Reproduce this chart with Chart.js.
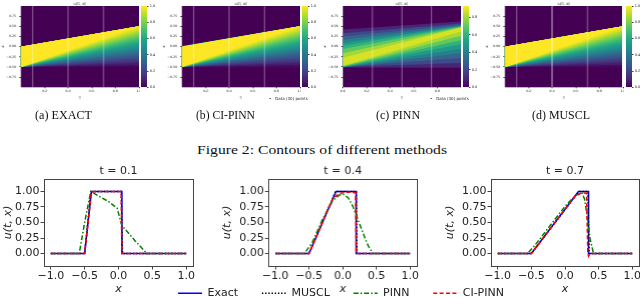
<!DOCTYPE html>
<html><head><meta charset="utf-8">
<script src="https://cdn.jsdelivr.net/npm/chart.js@4.4.0/dist/chart.umd.min.js"></script>
<style>
html,body{margin:0;padding:0;width:640px;height:298px;overflow:hidden;background:#fff;}
canvas{position:absolute;}
.cap{position:absolute;font-family:"Liberation Serif","Times New Roman",serif;color:#111;white-space:nowrap;transform-origin:0 50%;}
.tiny{position:absolute;font-family:"DejaVu Sans",sans-serif;font-size:4px;color:#222;white-space:nowrap;}
</style></head><body>
<canvas id="h0"></canvas><canvas id="h1"></canvas><canvas id="h2"></canvas><canvas id="h3"></canvas>
<canvas id="c0"></canvas><canvas id="c1"></canvas><canvas id="c2"></canvas><canvas id="c3"></canvas>
<canvas id="p0"></canvas><canvas id="p1"></canvas><canvas id="p2"></canvas>
<canvas id="leg"></canvas>
<div class="tiny" style="left:269px;top:96px">•&nbsp;&nbsp;&nbsp;Data (30) points</div>
<div class="tiny" style="left:430px;top:96px">•&nbsp;&nbsp;&nbsp;Data (30) points</div>
<div class="cap" id="capA" data-l="35" data-w="57" style="top:108px;font-size:12px">(a) EXACT</div>
<div class="cap" id="capB" data-l="196" data-w="59" style="top:108px;font-size:12px">(b) CI-PINN</div>
<div class="cap" id="capC" data-l="376" data-w="44" style="top:108px;font-size:12px">(c) PINN</div>
<div class="cap" id="capD" data-l="532" data-w="58" style="top:108px;font-size:12px">(d) MUSCL</div>
<div class="cap" id="capF" data-l="197" data-w="250" style="top:142px;font-size:13px">Figure 2: Contours of different methods</div>
<script>
// ================= DATA =================
// line profiles u(t,x) at t = 0.1, 0.4, 0.7
const plotTitles = ['t = 0.1', 't = 0.4', 't = 0.7'];
const seriesNames = ['Exact', 'MUSCL', 'PINN', 'CI-PINN'];
const xTickValues = [-1.0, -0.5, 0.0, 0.5, 1.0];
const yTickValues = [0.0, 0.25, 0.5, 0.75, 1.0];

const exactX_01 = [-1, -0.5, -0.4, 0.05, 0.05, 1];
const exactY_01 = [0, 0, 1, 1, 0, 0];
const exactX_04 = [-1, -0.5, -0.1, 0.2, 0.2, 1];
const exactY_04 = [0, 0, 1, 1, 0, 0];
const exactX_07 = [-1, -0.5, 0.2, 0.35, 0.35, 1];
const exactY_07 = [0, 0, 1, 1, 0, 0];

const musclX_01 = [-1, -0.5, -0.41, -0.39, 0.04, 0.06, 1];
const musclY_01 = [0, 0, 0.98, 1, 1, 0, 0];
const musclX_04 = [-1, -0.5, -0.11, -0.08, 0.2, 0.21, 1];
const musclY_04 = [0, 0, 0.99, 1, 1, 0, 0];
const musclX_07 = [-1, -0.5, 0.2, 0.22, 0.34, 0.36, 1];
const musclY_07 = [0, 0, 0.99, 1, 1, 0, 0];

const pinnX_01 = [-1, -0.58, -0.5, -0.41, -0.3, -0.15, -0.02, 0.05, 0.25, 0.42, 1];
const pinnY_01 = [0, 0, 0.5, 1.0, 0.93, 0.84, 0.73, 0.45, 0.2, 0, 0];
const pinnX_04 = [-1, -0.57, -0.45, -0.3, -0.15, -0.05, 0.0, 0.08, 0.15, 0.2, 0.3, 0.38, 0.45, 1];
const pinnY_04 = [0, 0, 0.18, 0.55, 0.85, 0.94, 0.96, 0.9, 0.76, 0.62, 0.33, 0.12, 0, 0];
const pinnX_07 = [-1, -0.56, -0.45, -0.2, 0.0, 0.15, 0.25, 0.29, 0.33, 0.37, 0.42, 0.45, 1];
const pinnY_07 = [0, 0, 0.13, 0.48, 0.76, 0.93, 0.98, 0.88, 0.6, 0.25, 0.02, 0, 0];

const ciX_01 = [-1, -0.5, -0.4, -0.36, 0.04, 0.05, 1];
const ciY_01 = [0, 0, 0.98, 1, 1, 0, 0];
const ciX_04 = [-1, -0.5, -0.3, -0.15, -0.05, 0.1, 0.19, 0.2, 1];
const ciY_04 = [0, 0, 0.5, 0.88, 0.97, 0.99, 0.98, 0, 0];
const ciX_07 = [-1, -0.5, 0.0, 0.15, 0.25, 0.32, 0.34, 0.35, 0.37, 1];
const ciY_07 = [0, 0, 0.71, 0.92, 0.98, 0.97, 0.0, -0.04, 0, 0];

// contour bands: region where u >= level, bounded by lower/upper x at t=0 and t=1
const exactLevels = [0,0.05,0.1,0.15,0.2,0.25,0.3,0.35,0.4,0.45,0.5,0.55,0.6,0.65,0.7,0.75,0.8,0.85,0.9,0.95,1.0];
const exactLo0 = [-0.5,-0.5,-0.5,-0.5,-0.5,-0.5,-0.5,-0.5,-0.5,-0.5,-0.5,-0.5,-0.5,-0.5,-0.5,-0.5,-0.5,-0.5,-0.5,-0.5,-0.5];
const exactLo1 = [-0.5,-0.45,-0.4,-0.35,-0.3,-0.25,-0.2,-0.15,-0.1,-0.05,0,0.05,0.1,0.15,0.2,0.25,0.3,0.35,0.4,0.45,0.5];
const exactHi0 = [0,0,0,0,0,0,0,0,0,0,0,0,0,0,0,0,0,0,0,0,0];
const exactHi1 = [0.5,0.5,0.5,0.5,0.5,0.5,0.5,0.5,0.5,0.5,0.5,0.5,0.5,0.5,0.5,0.5,0.5,0.5,0.5,0.5,0.5];

const ciLevels = [0,0.05,0.1,0.15,0.2,0.25,0.3,0.35,0.4,0.45,0.5,0.55,0.6,0.65,0.7,0.75,0.8,0.85,0.9,0.95,1.0];
const ciLo0 = [-0.51,-0.5,-0.5,-0.5,-0.5,-0.5,-0.5,-0.5,-0.5,-0.5,-0.5,-0.5,-0.5,-0.5,-0.5,-0.5,-0.5,-0.5,-0.5,-0.5,-0.49];
const ciLo1 = [-0.52,-0.46,-0.4,-0.35,-0.3,-0.25,-0.2,-0.15,-0.1,-0.05,0,0.05,0.1,0.15,0.2,0.25,0.3,0.35,0.4,0.45,0.5];
const ciHi0 = [0.01,0.01,0.01,0.01,0.01,0.01,0.01,0.01,0.01,0.01,0,0,0,0,0,0,0,0,0,0,0];
const ciHi1 = [0.51,0.51,0.51,0.51,0.51,0.5,0.5,0.5,0.5,0.5,0.5,0.5,0.5,0.5,0.5,0.5,0.5,0.5,0.5,0.5,0.5];

const pinnLevels = [0.05,0.15,0.25,0.35,0.45,0.55,0.65,0.75,0.85];
const pinnLo0 = [-0.51,-0.5,-0.5,-0.5,-0.5,-0.5,-0.49,-0.48,-0.47];
const pinnLo1 = [-0.52,-0.4,-0.28,-0.16,-0.05,0.06,0.16,0.27,0.37];
const pinnHi0 = [0.42,0.33,0.25,0.17,0.09,0.02,-0.06,-0.16,-0.27];
const pinnHi1 = [0.62,0.57,0.54,0.52,0.51,0.5,0.49,0.48,0.47];

const musclLevels = [0,0.05,0.1,0.15,0.2,0.25,0.3,0.35,0.4,0.45,0.5,0.55,0.6,0.65,0.7,0.75,0.8,0.85,0.9,0.95,1.0];
const musclLo0 = [-0.5,-0.5,-0.5,-0.5,-0.5,-0.5,-0.5,-0.5,-0.5,-0.5,-0.5,-0.5,-0.5,-0.5,-0.5,-0.5,-0.5,-0.5,-0.5,-0.5,-0.5];
const musclLo1 = [-0.51,-0.45,-0.4,-0.35,-0.3,-0.25,-0.2,-0.15,-0.1,-0.05,0,0.05,0.1,0.15,0.2,0.25,0.3,0.35,0.4,0.45,0.5];
const musclHi0 = [0,0,0,0,0,0,0,0,0,0,0,0,0,0,0,0,0,0,0,0,0];
const musclHi1 = [0.5,0.5,0.5,0.5,0.5,0.5,0.5,0.5,0.5,0.5,0.5,0.5,0.5,0.5,0.5,0.5,0.5,0.5,0.5,0.5,0.5];

const colorbarMax = [1.0, 1.0, 0.93, 1.0];
const sliceLinesT = [[0.1,0.4,0.7],[0.1,0.4,0.7],[0.25,0.5,0.75],[0.1,0.4,0.7,1.0]];
const heatXTicks = [[0.2,0.4,0.6,0.8,1.0],[0.2,0.4,0.6,0.8,1.0],[0.0,0.2,0.4,0.6,0.8],[0.2,0.4,0.6,0.8,1.0]];
const heatYTicks = [-0.75,-0.5,-0.25,0.0,0.25,0.5,0.75];
const cbarTicks = [[0,0.2,0.4,0.6,0.8,1.0],[0,0.2,0.4,0.6,0.8,1.0],[0,0.2,0.4,0.6,0.8],[0,0.2,0.4,0.6,0.8,1.0]];

// ================= STYLE / HELPERS =================
Chart.defaults.font.family = 'DejaVu Sans';
Chart.defaults.color = '#222';
const VIR = ['#440154','#482475','#414487','#355f8d','#2a788e','#21918c','#22a884','#44bf70','#7ad151','#bddf26','#fde725'];
function hex2rgb(h){return [1,3,5].map(i=>parseInt(h.substr(i,2),16));}
function viridis(v){
  v = Math.max(0, Math.min(1, v));
  const p = v*10, i = Math.min(9, Math.floor(p)), f = p - i;
  const a = hex2rgb(VIR[i]), b = hex2rgb(VIR[i+1]);
  return 'rgb(' + a.map((c,k)=>Math.round(c+(b[k]-c)*f)).join(',') + ')';
}
function fmt(v, d){ const s = Math.abs(v).toFixed(d); return (v < -1e-9 ? '\u2212' : '') + s; }
function place(id, x, y, w, h){
  const c = document.getElementById(id);
  c.width = w; c.height = h; c.style.left = x + 'px'; c.style.top = y + 'px';
  c.style.width = w + 'px'; c.style.height = h + 'px';
  return c;
}
const frame = {
  id: 'frame',
  afterDatasetsDraw(chart, args, opts){
    if (!opts.on) return;
    const {ctx, chartArea: a} = chart;
    ctx.save(); ctx.strokeStyle = '#444'; ctx.lineWidth = 1;
    ctx.strokeRect(Math.round(a.left)+0.5, Math.round(a.top)+0.5, Math.round(a.right-a.left), Math.round(a.bottom-a.top));
    ctx.restore();
  }
};
const areaBg = {
  id: 'areaBg',
  beforeDraw(chart, args, opts){
    if (!opts.color) return;
    const {ctx, chartArea: a} = chart;
    ctx.save(); ctx.fillStyle = opts.color; ctx.fillRect(a.left, a.top, a.right-a.left, a.bottom-a.top); ctx.restore();
  }
};
Chart.register(frame, areaBg);

// ================= HEATMAPS =================
const heatPanels = [
  {id:'h0', cid:'c0', L:20.7, levels:exactLevels, lo0:exactLo0, lo1:exactLo1, hi0:exactHi0, hi1:exactHi1},
  {id:'h1', cid:'c1', L:181.7, levels:ciLevels, lo0:ciLo0, lo1:ciLo1, hi0:ciHi0, hi1:ciHi1},
  {id:'h2', cid:'c2', L:342.7, levels:pinnLevels, lo0:pinnLo0, lo1:pinnLo1, hi0:pinnHi0, hi1:pinnHi1},
  {id:'h3', cid:'c3', L:505, levels:musclLevels, lo0:musclLo0, lo1:musclLo1, hi0:musclHi0, hi1:musclHi1}
];
const HW = 118, HT = 6, HB = 87.3, HCH = 102, YAW = 20.7;
heatPanels.forEach((p, k) => {
  const cx = p.L - YAW, cw = YAW + HW + 1;
  place(p.id, cx, 0, cw, HCH);
  const vmax = colorbarMax[k];
  const ds = [];
  const n = p.levels.length;
  p.levels.forEach((lv, i) => {
    const next = i < n - 1 ? p.levels[i+1] : lv + 0.05;
    const val = Math.min(vmax, (lv + next) / 2);
    ds.push({
      data: [{x:0, y:p.lo0[i]}, {x:1, y:p.lo1[i]}, {x:1, y:p.hi1[i]}, {x:0, y:p.hi0[i]}],
      fill: 'shape', backgroundColor: viridis(val / vmax), borderColor: 'rgba(0,0,0,0)', borderWidth: 0,
      pointRadius: 0, tension: 0, order: n - i
    });
  });
  sliceLinesT[k].forEach(t => {
    ds.push({ data: [{x:t, y:-1}, {x:t, y:1}], fill: false, order: -1,
      borderColor: t >= 0.99 ? 'rgba(255,255,255,0.95)' : (k===3 && t===0.4 ? 'rgba(255,255,255,0.7)' : 'rgba(255,255,255,0.4)'),
      borderWidth: t >= 0.99 ? 2 : 1, pointRadius: 0 });
  });
  const tf = {family:'DejaVu Sans', size:3.2};
  const lf = {family:'DejaVu Sans', size:4};
  new Chart(document.getElementById(p.id), {
    type: 'line',
    data: {datasets: ds},
    options: {
      responsive: false, animation: false, devicePixelRatio: 1,
      layout: {padding: {left:0, top:0, right:1, bottom:0}},
      plugins: {legend:{display:false}, tooltip:{enabled:false}, areaBg:{color: viridis(0)}, frame:{on:false}},
      scales: {
        x: {type:'linear', min:0, max:1, position:'bottom',
          afterBuildTicks: s => { s.ticks = heatXTicks[k].map(v => ({value:v})); },
          ticks: {font: tf, padding: 0.8, maxRotation: 0, autoSkip: false, callback: v => fmt(v,1)},
          grid: {drawOnChartArea:false, tickLength:1, tickColor:'#444'}, border:{display:false},
          title: {display:true, text:'t', font: lf, padding:{top:0,bottom:1.3}},
          afterFit: s => { s.height = HCH - HB; s.paddingLeft = 0; s.paddingRight = 0; }
        },
        y: {type:'linear', min:-1, max:1, position:'left',
          afterBuildTicks: s => { s.ticks = heatYTicks.map(v => ({value:v})); },
          ticks: {font: tf, padding: 3.2, autoSkip: false, callback: v => fmt(v,2)},
          grid: {drawOnChartArea:false, tickLength:1.5, tickColor:'#444'}, border:{display:false},
          title: {display:true, text:'x', font: lf, padding:{top:0.8,bottom:0}},
          afterFit: s => { s.width = YAW; s.paddingTop = 0; s.paddingBottom = 0; }
        },
        xt: {type:'linear', position:'top', min:0, max:1,
          ticks:{display:false}, grid:{display:false}, border:{display:false},
          title: {display:true, text:'u(t, x)', font: lf, padding:{top:1.6,bottom:0}},
          afterFit: s => { s.height = HT; s.paddingLeft = 0; s.paddingRight = 0; }
        }
      }
    }
  });
  // colorbar
  const cbL = p.L + HW + 2.5, cbW = 6, cbAxisW = 14;
  place(p.cid, cbL, 0, cbW + cbAxisW, HCH);
  new Chart(document.getElementById(p.cid), {
    type: 'bar',
    data: {labels: ['u'], datasets: [{data: [[0, vmax]], borderWidth: 0, barPercentage: 1, categoryPercentage: 1,
      backgroundColor: (c) => {
        const a = c.chart.chartArea; if (!a) return viridis(0.5);
        const g = c.chart.ctx.createLinearGradient(0, a.bottom, 0, a.top);
        for (let i = 0; i <= 10; i++) g.addColorStop(i/10, viridis(i/10));
        return g;
      }}]},
    options: {
      responsive: false, animation: false, devicePixelRatio: 1,
      layout: {padding: {left:0, top:HT, right:0, bottom: HCH - HB}},
      plugins: {legend:{display:false}, tooltip:{enabled:false}, frame:{on:false}},
      scales: {
        x: {display:false},
        y: {position:'right', min:0, max:vmax,
          afterBuildTicks: s => { s.ticks = cbarTicks[k].map(v => ({value:v})); },
          ticks: {font: {family:'DejaVu Sans', size:3.5}, padding: 1.2, autoSkip:false, callback: v => fmt(v,1)},
          grid: {drawOnChartArea:false, tickLength:1.5, tickColor:'#444'}, border:{display:false},
          afterFit: s => { s.width = cbAxisW; s.paddingTop = 0; s.paddingBottom = 0; }
        }
      }
    }
  });
});

// ================= LINE PLOTS =================
const profileData = [
  [[exactX_01, exactY_01], [musclX_01, musclY_01], [pinnX_01, pinnY_01], [ciX_01, ciY_01]],
  [[exactX_04, exactY_04], [musclX_04, musclY_04], [pinnX_04, pinnY_04], [ciX_04, ciY_04]],
  [[exactX_07, exactY_07], [musclX_07, musclY_07], [pinnX_07, pinnY_07], [ciX_07, ciY_07]]
];
const seriesStyle = [
  {borderColor:'#0000ff', borderDash:[], borderWidth:1.6},
  {borderColor:'#000000', borderDash:[1.4,1.8], borderWidth:1.4},
  {borderColor:'#008000', borderDash:[5,2,1.5,2], borderWidth:1.5},
  {borderColor:'#ff0000', borderDash:[4,2.4], borderWidth:1.6}
];
const plotGeom = [
  {cx:0, L:44, R:193},
  {cx:219, L:268.3, R:416.7},
  {cx:442, L:491, R:639}
];
const PCY = 160, PCH = 138, PT = 179, PB = 266;
plotGeom.forEach((g, k) => {
  const cw = (k === 2 ? 640 : g.R + 22) - g.cx;
  place('p' + k, g.cx, PCY, cw, PCH);
  const font11 = {family:'DejaVu Sans', size:11};
  const ds = profileData[k].map((pair, i) => Object.assign({
    label: seriesNames[i],
    data: pair[0].map((x, j) => ({x, y: pair[1][j]})),
    fill: false, pointRadius: 0, tension: 0, order: 3 - i
  }, seriesStyle[i]));
  new Chart(document.getElementById('p' + k), {
    type: 'line',
    data: {datasets: ds},
    options: {
      responsive: false, animation: false, devicePixelRatio: 1,
      layout: {padding: {left:0, top:0, right: cw - (g.R - g.cx), bottom:0}},
      plugins: {legend:{display:false}, tooltip:{enabled:false}, frame:{on:true}},
      scales: {
        x: {type:'linear', min:-1.1, max:1.1, position:'bottom',
          afterBuildTicks: s => { s.ticks = xTickValues.map(v => ({value:v})); },
          ticks: {font: font11, padding: 0, maxRotation: 0, autoSkip: false, callback: v => fmt(v,1)},
          grid: {drawOnChartArea:false, tickLength:3.5, tickColor:'#444'}, border:{display:false},
          title: {display:true, text:'x', font:{family:'DejaVu Sans', size:11, style:'italic'}, padding:{top:0,bottom:2.4}},
          afterFit: s => { s.height = PCH - (PB - PCY); s.paddingLeft = 0; s.paddingRight = 0; }
        },
        y: {type:'linear', min:-0.2, max:1.2, position:'left',
          afterBuildTicks: s => { s.ticks = yTickValues.map(v => ({value:v})); },
          ticks: {font: font11, padding: 1, autoSkip: false, callback: v => fmt(v,2)},
          grid: {drawOnChartArea:false, tickLength:3.5, tickColor:'#444'}, border:{display:false},
          title: {display:true, text:'u(t, x)', font:{family:'DejaVu Sans', size:11, style:'italic'}, padding:{top:1.4,bottom:0}},
          afterFit: s => { s.width = g.L - g.cx; s.paddingTop = 0; s.paddingBottom = 0; }
        },
        xt: {type:'linear', position:'top', min:0, max:1,
          ticks:{display:false}, grid:{display:false}, border:{display:false},
          title: {display:true, text: plotTitles[k], font: font11, padding:{top:4.4,bottom:0}},
          afterFit: s => { s.height = PT - PCY; s.paddingLeft = 0; s.paddingRight = 0; }
        }
      }
    }
  });
});

// ================= LEGEND =================
place('leg', 140.7, 263.7, 400, 140);
new Chart(document.getElementById('leg'), {
  type: 'line',
  data: {datasets: seriesNames.map((n, i) => Object.assign({label: n, data: [], pointRadius: 0}, seriesStyle[i]))},
  options: {
    responsive: false, animation: false, devicePixelRatio: 1,
    layout: {padding: 0},
    scales: {x:{display:false}, y:{display:false}},
    plugins: {tooltip:{enabled:false}, frame:{on:false},
      legend: {display:true, position:'top', align:'center',
        labels: {usePointStyle:true, pointStyle:'line', pointStyleWidth:24, padding:23.8,
          font:{family:'DejaVu Sans', size:11}, color:'#222',
          generateLabels: (chart) => chart.data.datasets.map((d, i) => ({
            text: d.label, fillStyle: d.borderColor, strokeStyle: d.borderColor, lineWidth: d.borderWidth,
            lineDash: d.borderDash, lineCap: 'butt', pointStyle: 'line', hidden: false, datasetIndex: i, fontColor: '#222'
          }))
        }}}
  }
});

// ================= CAPTIONS: fit widths =================
document.querySelectorAll('.cap').forEach(el => {
  const l = +el.dataset.l, w = +el.dataset.w;
  const actual = el.getBoundingClientRect().width;
  el.style.left = l + 'px';
  el.style.transform = 'scaleX(' + (w / actual) + ')';
});
</script>
</body></html>
